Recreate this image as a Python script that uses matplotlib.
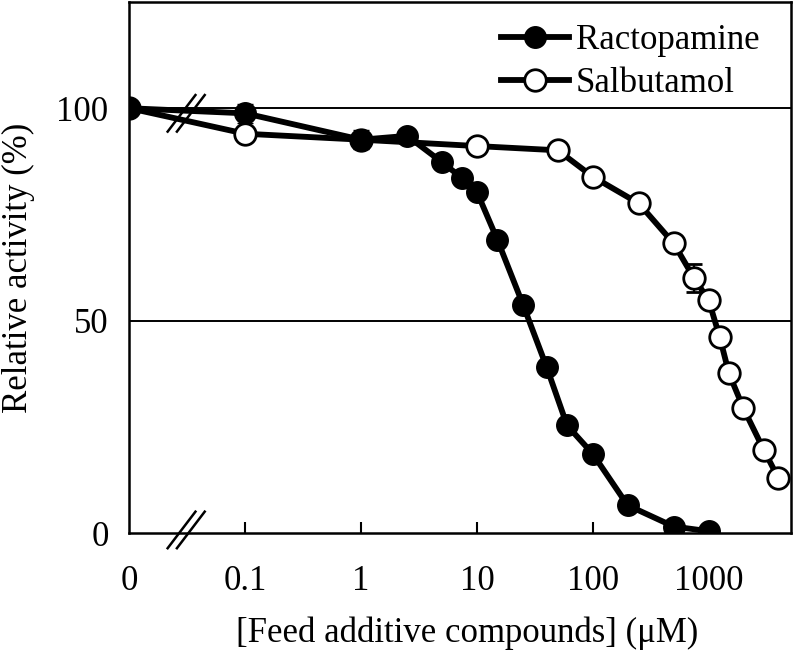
import numpy as np
import matplotlib
matplotlib.use("Agg")
import matplotlib.pyplot as plt
from matplotlib.lines import Line2D

# concentrations in uM (0 = control), relative activity in %
racto_conc = [0, 0.1, 1, 2.5, 5, 7.5, 10, 15, 25, 40, 60, 100, 200, 500, 1000]
racto_act = [100, 98.8, 92.6, 93.5, 87.3, 83.5, 80.3, 69.1, 53.8, 39.1, 25.4, 18.7, 6.6, 1.6, 0.5]
racto_err = [0, 2.3, 2.2, 0, 0, 0, 0, 0, 0, 0, 0, 0, 0, 0, 0]

salbu_conc = [0, 0.1, 1, 10, 50, 100, 250, 500, 750, 1000, 1250, 1500, 2000, 3000, 4000]
salbu_act = [100, 94.0, 92.6, 91.1, 90.1, 83.9, 77.6, 68.2, 60.0, 54.9, 46.1, 37.6, 29.4, 19.6, 13.0]
salbu_err = [0, 0, 0, 0, 0, 0, 0, 0, 3.3, 0, 0, 0, 0, 0, 0]

tick_vals = [0, 0.1, 1, 10, 100, 1000]
tick_labels = ["0", "0.1", "1", "10", "100", "1000"]


def pos(c):
    # broken log axis: 0 sits one decade left of 0.1
    c = np.asarray(c, dtype=float)
    return np.where(c > 0, np.log10(np.where(c > 0, c, 1)) + 2, 0.0)


plt.rcParams['font.family'] = ['Liberation Serif', 'DejaVu Serif']
FS = 25
LW = 4.2
MS = 15.5

fig = plt.figure(figsize=(7.94, 6.52), dpi=100)
ax = fig.add_axes([0.163, 0.182, 0.833, 0.815])

ax.errorbar(pos(salbu_conc), salbu_act, yerr=salbu_err, color='black', lw=LW,
            marker='o', ms=MS, mfc='white', mec='black', mew=2,
            ecolor='black', elinewidth=1.5, capsize=6, capthick=1.5, zorder=3)
ax.errorbar(pos(racto_conc), racto_act, yerr=racto_err, color='black', lw=LW,
            marker='o', ms=MS, mfc='black', mec='black', mew=1,
            ecolor='black', elinewidth=1.5, capsize=6, capthick=1.5, zorder=4)

# axis break marks (on the x axis and across the curves)
bx = 0.49
for dx in (-0.04, 0.04):
    for cy in (0.8, 98.8):
        ax.plot([bx + dx - 0.12, bx + dx + 0.12], [cy - 4.3, cy + 4.3],
                color='black', lw=1.8, clip_on=False, zorder=5)

ax.set_xlim(0, 5.71)
ax.set_ylim(0, 125)
ax.set_xticks(pos(tick_vals))
ax.set_xticklabels(tick_labels)
ax.set_yticks([0, 50, 100])
ax.set_yticklabels(["0", "50", "100"])
ax.tick_params(axis='x', direction='in', length=8, width=1.5, pad=23, labelsize=FS)
ax.tick_params(axis='y', length=0, pad=15, labelsize=FS)
ax.xaxis.get_major_ticks()[0].tick1line.set_visible(False)

for y in (50, 100):
    ax.axhline(y, color='black', lw=1.4, zorder=1)
for s in ax.spines.values():
    s.set_linewidth(1.8)

ax.set_ylabel("Relative activity (%)", fontsize=FS)
ax.yaxis.set_label_coords(-0.143, 0.5)
ax.set_xlabel("[Feed additive compounds] (\u03bcM)", fontsize=FS)
ax.xaxis.set_label_coords(0.511, -0.156)

handles = [
    Line2D([], [], color='black', lw=LW, marker='o', ms=MS, mfc='black', mec='black'),
    Line2D([], [], color='black', lw=LW, marker='o', ms=MS, mfc='white', mec='black', mew=2),
]
ax.legend(handles, ["Ractopamine", "Salbutamol"], loc='upper left',
          bbox_to_anchor=(0.541, 0.985), frameon=False, fontsize=FS,
          handlelength=1.95, handletextpad=0.2, labelspacing=0.3,
          borderaxespad=0)

fig.savefig("out.png", dpi=100)
